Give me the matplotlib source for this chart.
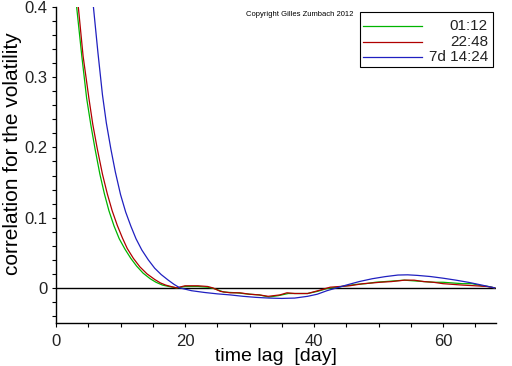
import matplotlib
matplotlib.use("Agg")
import matplotlib.pyplot as plt
from matplotlib.lines import Line2D
from matplotlib.patches import Rectangle
import numpy as np

plt.rcParams['font.family'] = ['Liberation Sans', 'DejaVu Sans']

# data
lag_g = [2.5, 3.2, 4.0, 4.75, 5.4, 6.05, 6.8, 7.5, 8.2, 9.0, 9.8, 10.7, 11.6, 12.5, 13.5, 14.6, 15.5, 16.5, 17.5, 18.7,
         20, 22, 23.5, 24.5, 26, 28, 30, 31.5, 33, 34.5, 36, 37.5, 39, 40.5, 42, 43.5, 45, 46.5, 48, 49.5, 51, 52.5, 54,
         55.5, 57, 58.5, 60, 61.5, 63, 64.5, 66, 67, 68]
val_g = [0.48, 0.40, 0.33, 0.270, 0.232, 0.198, 0.162, 0.134, 0.110, 0.088, 0.070, 0.055, 0.042, 0.031, 0.021, 0.013, 0.008, 0.004, 0.002, 0.0,
         0.002, 0.002, 0.001, -0.001, -0.006, -0.007, -0.009, -0.010, -0.013, -0.011, -0.008, -0.008, -0.008, -0.005, -0.001, 0.001, 0.003, 0.005, 0.006, 0.008, 0.009, 0.010, 0.011,
         0.010, 0.009, 0.008, 0.008, 0.007, 0.006, 0.006, 0.003, 0.002, 0.0]

lag_r = [2.8, 3.46, 4.2, 5.1, 5.7, 6.4, 7.2, 7.95, 8.7, 9.5, 10.3, 11.05, 12.0, 13.0, 14.1, 15.3, 16.2, 17.0, 17.8, 18.7,
         20, 22, 23.5, 24.3, 25.5, 27, 28.5, 30, 31.5, 32.9, 34.7, 35.8, 37, 39, 41, 42.5, 44, 45.5, 47.6, 49, 50.2, 52, 54,
         55.5, 57, 58.5, 60, 61.5, 63, 65, 66.8, 68]
val_r = [0.48, 0.40, 0.33, 0.270, 0.233, 0.198, 0.162, 0.134, 0.110, 0.089, 0.071, 0.056, 0.042, 0.030, 0.020, 0.012, 0.007, 0.004, 0.002, 0.0,
         0.003, 0.003, 0.002, 0.0, -0.005, -0.007, -0.007, -0.009, -0.010, -0.012, -0.010, -0.007, -0.008, -0.008, -0.003, 0.001, 0.002, 0.003, 0.006, 0.007, 0.008, 0.009, 0.011,
         0.011, 0.009, 0.008, 0.006, 0.005, 0.004, 0.003, 0.002, 0.0]

lag_b = [5.0, 5.8, 6.5, 7.2, 7.8, 8.5, 9.2, 10.0, 10.8, 11.6, 12.4, 13.3, 14.3, 15.3, 16.3, 17.4, 18.3, 19.2,
         21, 23, 25, 27, 29, 31, 33, 35, 37, 39, 40.5, 42, 43.5, 45, 47, 49, 51, 53, 54.5, 56, 58, 60, 62, 64, 66, 68]
val_b = [0.48, 0.40, 0.335, 0.275, 0.235, 0.198, 0.165, 0.133, 0.108, 0.088, 0.070, 0.054, 0.040, 0.028, 0.019, 0.011, 0.005, 0.0,
         -0.004, -0.0065, -0.0085, -0.010, -0.012, -0.0135, -0.0145, -0.015, -0.0145, -0.012, -0.009, -0.004, 0.0, 0.004, 0.009, 0.013, 0.016, 0.0183, 0.0186, 0.0178, 0.0162, 0.0138, 0.011, 0.0078, 0.004, 0.0]

labels = ['01:12', '22:48', '7d 14:24']
colors = ['#00b400', '#b00000', '#2020c0']

fig = plt.figure(figsize=(5.12, 3.66), dpi=100)
ax = fig.add_axes([56/512, 1-323/366, 440/512, (323-7)/366])

ax.axhline(0, color='black', lw=1.0, zorder=1)
for lx, vy, c in zip([lag_g, lag_r, lag_b], [val_g, val_r, val_b], colors):
    ax.plot(lx, vy, color=c, lw=0.9, zorder=2)

ax.set_xlim(0, 68.2)
ax.set_ylim(-0.05, 0.4)
ax.set_xticks([0, 20, 40, 60])
ax.set_xticks(np.arange(0, 68, 5), minor=True)
ax.set_yticks([0, 0.1, 0.2, 0.3, 0.4])
ax.set_yticklabels(['0', '0.1', '0.2', '0.3', '0.4'])
ax.set_yticks(np.arange(-0.04, 0.41, 0.02), minor=True)
for s in ['top', 'right']:
    ax.spines[s].set_visible(False)
for s in ['left', 'bottom']:
    ax.spines[s].set_linewidth(1.0)
ax.tick_params(which='both', direction='out', length=3, width=0.8, labelsize=12, labelcolor='#222222')
ax.tick_params(axis='x', pad=5)
ax.tick_params(axis='y', pad=3)

ax.set_xlabel('time lag  [day]', fontsize=14, labelpad=-1)
ax.set_ylabel('correlation for the volatility', fontsize=15)
ax.yaxis.set_label_coords(-0.077, 0.535)

fig.text(353/512, 1-15/366, 'Copyright Gilles Zumbach 2012', fontsize=5.5, ha='right', va='center')

# legend box
fig.patches.append(Rectangle((360/512, 1-67/366), 133/512, 55/366, transform=fig.transFigure,
                             facecolor='white', edgecolor='black', lw=0.8, zorder=5))
for i, (lab, c) in enumerate(zip(labels, colors)):
    yy = 1 - (26 + 15.5*i)/366
    fig.lines.append(Line2D([363/512, 422/512], [yy, yy], transform=fig.transFigure, color=c, lw=0.9, zorder=6))
    fig.text(488/512, yy, lab, fontsize=11, ha='right', va='center', zorder=7, color='#222222')

fig.savefig('out.png', dpi=100)
